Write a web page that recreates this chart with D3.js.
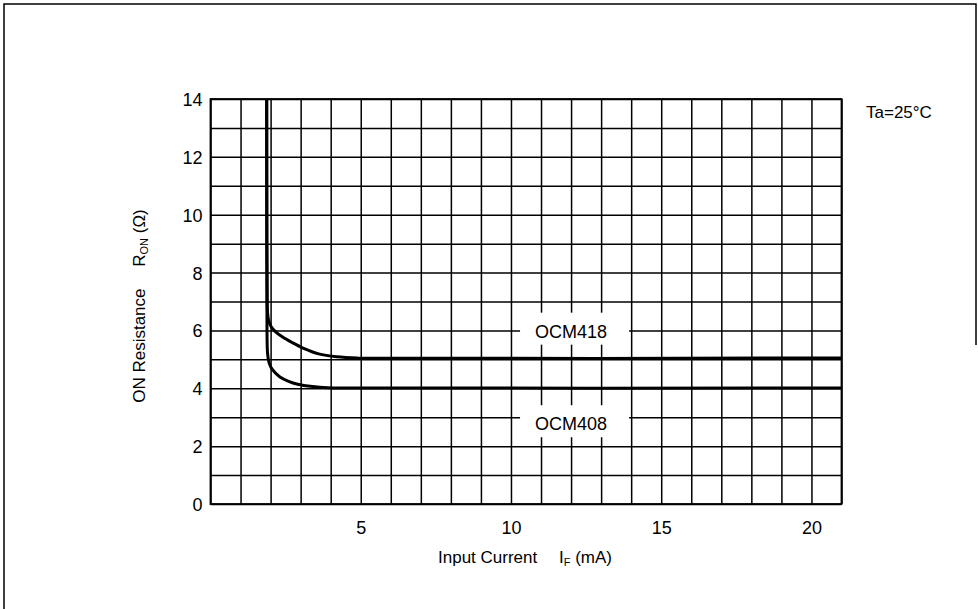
<!DOCTYPE html>
<html><head><meta charset="utf-8">
<script src="https://cdn.jsdelivr.net/npm/d3@7"></script>
<style>
body{margin:0;background:#fff;}
svg{display:block;font-family:"Liberation Sans",Arial,sans-serif;}
</style></head>
<body><svg id="c" width="978" height="609"></svg>
<script>
// ---- data ----
const xDomain = [0, 21];
const yDomain = [0, 14];
const xGridValues = d3.range(0, 22, 1);
const yGridValues = d3.range(0, 15, 1);
const xTickLabels = [5, 10, 15, 20];
const yTickLabels = [0, 2, 4, 6, 8, 10, 12, 14];
const seriesNames = ["OCM418", "OCM408"];
const ocm418X = [1.87, 1.875, 1.885, 1.9, 1.94, 2.02, 2.15, 2.4, 2.7, 3.1, 3.6, 4.2, 4.9, 21];
const ocm418Y = [14, 9, 7.2, 6.6, 6.32, 6.13, 5.97, 5.77, 5.59, 5.38, 5.19, 5.09, 5.05, 5.05];
const ocm408X = [1.87, 1.875, 1.88, 1.9, 1.95, 2.05, 2.3, 2.6, 2.9, 3.4, 3.9, 4.5, 21];
const ocm408Y = [14, 9, 6, 5.2, 4.88, 4.66, 4.4, 4.24, 4.14, 4.06, 4.02, 4.01, 4.01];
const labelPos = [[12.0, 5.75], [12.0, 2.55]]; // label anchor (data units)
const tempLabel = "Ta=25°C";

// ---- layout ----
const svg = d3.select("#c");
const L = 210.5, R = 841.5, T = 99, B = 504;
const x = d3.scaleLinear().domain(xDomain).range([L, R]);
const y = d3.scaleLinear().domain(yDomain).range([B, T]);

// frame
svg.append("path").attr("d", "M4,609 L4,4 L976,4 L976,345")
  .attr("fill", "none").attr("stroke", "#000").attr("stroke-width", 1.5);

// grid
const gx = svg.append("g").attr("transform", `translate(0,${B})`)
  .call(d3.axisBottom(x).tickValues(xGridValues).tickSize(-(B - T)).tickFormat(""));
const gy = svg.append("g").attr("transform", `translate(${L},0)`)
  .call(d3.axisLeft(y).tickValues(yGridValues).tickSize(-(R - L)).tickFormat(""));
[gx, gy].forEach(g => {
  g.select(".domain").remove();
  g.selectAll("line").attr("stroke", "#000").attr("stroke-width", 1.5);
});
svg.append("rect").attr("x", L).attr("y", T).attr("width", R - L).attr("height", B - T)
  .attr("fill", "none").attr("stroke", "#000").attr("stroke-width", 1.8);

// tick labels
const ax = svg.append("g").attr("transform", `translate(0,${B})`)
  .call(d3.axisBottom(x).tickValues(xTickLabels).tickSize(0).tickPadding(17).tickFormat(d3.format("d")));
const ay = svg.append("g").attr("transform", `translate(${L},0)`)
  .call(d3.axisLeft(y).tickValues(yTickLabels).tickSize(0).tickPadding(8).tickFormat(d3.format("d")));
[ax, ay].forEach(g => {
  g.select(".domain").remove();
  g.selectAll("text").attr("font-size", 18).attr("fill", "#000")
    .attr("font-family", '"Liberation Sans",Arial,sans-serif');
});
ay.selectAll("text").attr("dy", "0.36em");

// series labels with white backgrounds
seriesNames.forEach((n, i) => {
  const g = svg.append("g");
  const t = g.append("text").attr("x", x(labelPos[i][0])).attr("y", y(labelPos[i][1]))
    .attr("text-anchor", "middle").attr("font-size", 18).text(n);
  const bb = t.node().getBBox();
  g.insert("rect", "text").attr("x", bb.x - 15).attr("y", bb.y - 9)
    .attr("width", bb.width + 37).attr("height", bb.height + 12).attr("fill", "#fff");
});

// curves
const line = d3.line().x(d => x(d[0])).y(d => y(d[1])).curve(d3.curveCatmullRom.alpha(0.5));
[[ocm418X, ocm418Y], [ocm408X, ocm408Y]].forEach(([xs, ys]) => {
  svg.append("path").datum(xs.map((v, i) => [v, ys[i]])).attr("d", line)
    .attr("fill", "none").attr("stroke", "#000").attr("stroke-width", 3);
});

// titles
const xt = svg.append("text").attr("x", 525).attr("y", 563).attr("text-anchor", "middle")
  .attr("font-size", 17);
xt.append("tspan").text("Input Current\u2003 I");
xt.append("tspan").attr("font-size", 11).attr("dy", 3).text("F");
xt.append("tspan").attr("dy", -3).text(" (mA)");

const yt = svg.append("text").attr("transform", "translate(145,306) rotate(-90)")
  .attr("text-anchor", "middle").attr("font-size", 17);
yt.append("tspan").text("ON Resistance\u2003 R");
yt.append("tspan").attr("font-size", 11).attr("dy", 3).text("ON");
yt.append("tspan").attr("dy", -3).text(" (Ω)");

svg.append("text").attr("x", 866).attr("y", 118).attr("font-size", 17).text(tempLabel);
</script></body></html>
